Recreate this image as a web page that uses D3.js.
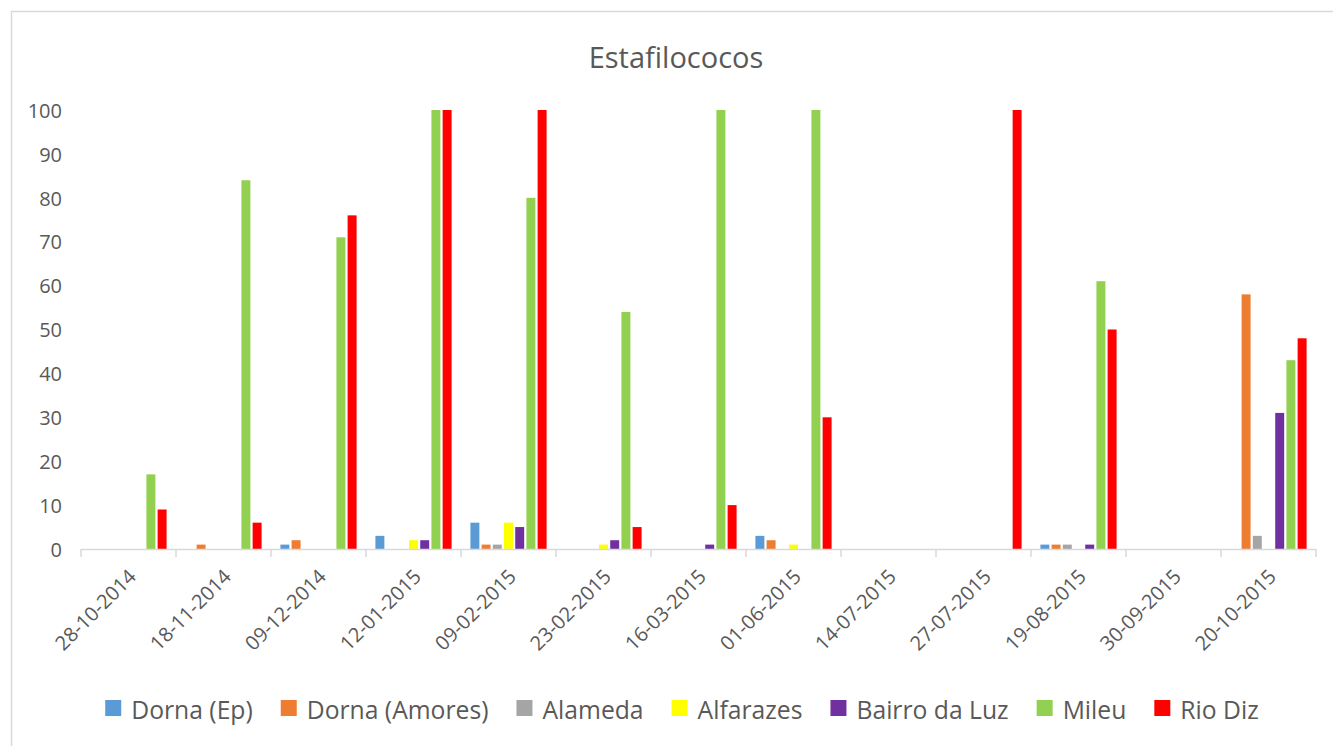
<!DOCTYPE html>
<html>
<head>
<meta charset="utf-8">
<script src="https://cdn.jsdelivr.net/npm/d3@7"></script>
<style>
  html, body { margin: 0; padding: 0; background: #fff; }
  svg { display: block; font-family: "Open Sans", sans-serif; }
</style>
</head>
<body>
<svg id="chart" width="1333" height="746"></svg>
<script>
// Sampling dates (categories)
const dates = ["28-10-2014", "18-11-2014", "09-12-2014", "12-01-2015", "09-02-2015",
  "23-02-2015", "16-03-2015", "01-06-2015", "14-07-2015", "27-07-2015",
  "19-08-2015", "30-09-2015", "20-10-2015"];

// Sites (series)
const sites = ["Dorna (Ep)", "Dorna (Amores)", "Alameda", "Alfarazes", "Bairro da Luz", "Mileu", "Rio Diz"];
const siteColors = ["#5B9BD5", "#ED7D31", "#A5A5A5", "#FFFF00", "#7030A0", "#92D050", "#FF0000"];

// Values per site, one per date
const dornaEp      = [0, 0, 1, 3, 6, 0, 0, 3, 0, 0, 1, 0, 0];
const dornaAmores  = [0, 1, 2, 0, 1, 0, 0, 2, 0, 0, 1, 0, 58];
const alameda      = [0, 0, 0, 0, 1, 0, 0, 0, 0, 0, 1, 0, 3];
const alfarazes    = [0, 0, 0, 2, 6, 1, 0, 1, 0, 0, 0, 0, 0];
const bairroDaLuz  = [0, 0, 0, 2, 5, 2, 1, 0, 0, 0, 1, 0, 31];
const mileu        = [17, 84, 71, 100, 80, 54, 100, 100, 0, 0, 61, 0, 43];
const rioDiz       = [9, 6, 76, 100, 100, 5, 10, 30, 0, 100, 50, 0, 48];

const yTicks = [0, 10, 20, 30, 40, 50, 60, 70, 80, 90, 100];
const title = "Estafilococos";

const seriesValues = [dornaEp, dornaAmores, alameda, alfarazes, bairroDaLuz, mileu, rioDiz];

const svg = d3.select("#chart");
const textColor = "#595959";
const lineColor = "#D9D9D9";

// Chart frame
svg.append("rect")
  .attr("x", 11.5).attr("y", 11.5)
  .attr("width", 1340).attr("height", 760)
  .attr("fill", "#fff")
  .attr("stroke", lineColor).attr("stroke-width", 1.5);

const plot = { left: 81, right: 1316, top: 110, bottom: 549 };

const x0 = d3.scaleBand().domain(dates).range([plot.left, plot.right]).padding(0);
const x1 = d3.scaleBand().domain(sites).range([0, x0.bandwidth()])
  .paddingInner(0.2).paddingOuter(0.84);
const y = d3.scaleLinear().domain([0, 100]).range([plot.bottom, plot.top]);

// Title
svg.append("text")
  .attr("x", 676).attr("y", 68)
  .attr("text-anchor", "middle")
  .attr("font-size", 29)
  .attr("fill", textColor)
  .text(title);

// Y axis labels (no axis line)
const yAxis = d3.axisLeft(y).tickValues(yTicks).tickSize(0).tickPadding(0);
const yG = svg.append("g").attr("transform", `translate(${plot.left - 19},0)`).call(yAxis);
yG.select(".domain").remove();
yG.selectAll("text")
  .attr("font-family", "Open Sans, sans-serif")
  .attr("font-size", 20)
  .attr("fill", textColor)
  .attr("dy", "0.36em");

// Bars
const groups = svg.append("g").selectAll("g")
  .data(dates)
  .join("g")
  .attr("transform", d => `translate(${x0(d)},0)`);

groups.selectAll("rect")
  .data((d, i) => sites.map((s, j) => ({ site: s, color: siteColors[j], value: seriesValues[j][i] })))
  .join("rect")
  .filter(d => d.value > 0)
  .attr("x", d => x1(d.site))
  .attr("width", x1.bandwidth())
  .attr("y", d => y(d.value))
  .attr("height", d => y(0) - y(d.value))
  .attr("fill", d => d.color);

// X axis: baseline, boundary ticks, rotated labels
svg.append("line")
  .attr("x1", plot.left).attr("x2", plot.right)
  .attr("y1", plot.bottom + 0.5).attr("y2", plot.bottom + 0.5)
  .attr("stroke", lineColor).attr("stroke-width", 1.5);

const boundaries = dates.map(d => x0(d)).concat([plot.right]);
svg.append("g").selectAll("line")
  .data(boundaries)
  .join("line")
  .attr("x1", d => d).attr("x2", d => d)
  .attr("y1", plot.bottom).attr("y2", plot.bottom + 8)
  .attr("stroke", lineColor).attr("stroke-width", 1.5);

svg.append("g").selectAll("text")
  .data(dates)
  .join("text")
  .attr("transform", d => `translate(${x0(d) + x0.bandwidth() / 2 - 1},${plot.bottom + 19}) rotate(-45)`)
  .attr("text-anchor", "end")
  .attr("dy", "0.7em")
  .attr("font-size", 20)
  .attr("fill", textColor)
  .text(d => d);

// Legend
const legend = svg.append("g");
const sq = 16, gapText = 10, gapItem = 28, legendBaseline = 719;
const items = legend.selectAll("g")
  .data(sites)
  .join("g");
items.append("rect")
  .attr("width", sq).attr("height", sq)
  .attr("y", legendBaseline - 19)
  .attr("fill", (d, i) => siteColors[i]);
items.append("text")
  .attr("x", sq + gapText)
  .attr("y", legendBaseline)
  .attr("font-size", 24.7)
  .attr("fill", textColor)
  .text(d => d);

let cursor = 0;
const widths = [];
items.each(function () {
  const w = sq + gapText + d3.select(this).select("text").node().getComputedTextLength();
  widths.push(w);
});
const total = d3.sum(widths) + gapItem * (widths.length - 1);
const startX = 682 - total / 2;
items.attr("transform", (d, i) => {
  const tx = startX + cursor;
  cursor += widths[i] + gapItem;
  return `translate(${tx},0)`;
});
</script>
</body>
</html>
